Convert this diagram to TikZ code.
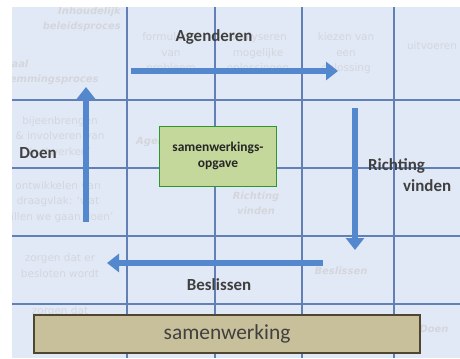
\documentclass[tikz,border=0pt]{standalone}
\usepackage{fontspec}
\setmainfont{Carlito}
\newfontfamily\faintfont{DejaVu Sans}
\usetikzlibrary{arrows.meta}
\definecolor{cellblue}{RGB}{226,233,246}
\definecolor{gridblue}{RGB}{98,128,182}
\definecolor{arrowblue}{RGB}{84,136,206}
\definecolor{labelgray}{RGB}{64,64,64}
\definecolor{faintgray}{RGB}{212,214,220}
\definecolor{opgavegreen}{RGB}{197,216,155}
\definecolor{opgaveedge}{RGB}{45,150,45}
\definecolor{khaki}{RGB}{200,192,154}
\definecolor{khakiedge}{RGB}{78,70,48}

\begin{document}
\begin{tikzpicture}[x=1bp, y=-1bp,
    gridline/.style={line width=1.2bp, gridblue},
    flow/.style={line width=6.5bp, arrowblue, -{Triangle[width=18bp,length=12bp]}},
    phase/.style={font=\fontsize{17}{21}\selectfont\bfseries, text=labelgray, inner sep=0pt},
    faint/.style={font=\faintfont\fontsize{10.5}{15.5}\selectfont, text=faintgray, align=center, inner sep=0pt},
    faintit/.style={font=\faintfont\fontsize{10}{15}\selectfont\bfseries\itshape, text=faintgray, inner sep=0pt}]
    \useasboundingbox (0,0) rectangle (460,358);
    % table
    \fill[cellblue] (12,7) rectangle (460,358);
    \begin{scope}
    \clip (12,7) rectangle (460,358);
    \node[faintit, align=right, anchor=east] (inhoud) at (121,19) {Inhoudelijk\\beleidsproces};
    \node[faintit, align=left, anchor=west] (sociaal) at (-12,72) {Sociaal\\afstemmingsproces};
    \node[faint] (formuleren) at (171,53.5) {formuleren\\van\\probleem};
    \node[faint] (analyseren) at (258,53.5) {analyseren\\mogelijke\\oplossingen};
    \node[faint] (kiezen) at (346,53.5) {kiezen van\\een\\oplossing};
    \node[faint] (uitvoeren) at (432,46) {uitvoeren};
    \node[faint] (bijeen) at (60,136) {bijeenbrengen\\\& involveren van\\‘netwerken’};
    \node[faint] (draagvlak) at (58,202) {ontwikkelen van\\draagvlak: ‘wat\\willen we gaan doen’};
    \node[faint] (zorgen) at (60,265.5) {zorgen dat er\\besloten wordt};
    \node[faint] (zorgenb) at (60,312) {zorgen dat};
    \node[faintit, anchor=west] (agfaint) at (136,142) {Agenderen};
    \node[faintit, align=center] (rifaint) at (256,203) {Richting\\vinden};
    \node[faintit] (befaint) at (341,271) {Beslissen};
    \node[faintit] (dofaint) at (434,329) {Doen};
    \end{scope}
    \foreach \x in {127,215,302,394} \draw[gridline] (\x,7) -- (\x,358);
    \foreach \y in {100,168,236,304} \draw[gridline] (12,\y) -- (460,\y);
    % cycle arrows
    \coordinate (agStart) at (131,71);
    \coordinate (agEnd) at (338,71);
    \coordinate (riStart) at (355,108);
    \coordinate (riEnd) at (355,250);
    \coordinate (beStart) at (323,263);
    \coordinate (beEnd) at (107,263);
    \coordinate (doStart) at (86,222);
    \coordinate (doEnd) at (86,87);
    \draw[flow] (agStart) -- (agEnd);
    \draw[flow] (riStart) -- (riEnd);
    \draw[flow] (beStart) -- (beEnd);
    \draw[flow] (doStart) -- (doEnd);
    % phases
    \node[phase] (agenderen) at (214,37) {Agenderen};
    \node[phase, align=left, anchor=west] (richting) at (368,175) {Richting\\\hspace{35bp}vinden};
    \node[phase] (beslissen) at (219,285) {Beslissen};
    \node[phase] (doen) at (38,153) {Doen};
    % boxes
    \node[draw=opgaveedge, fill=opgavegreen, line width=1bp, minimum width=117bp, minimum height=60bp,
      align=center, font=\fontsize{13.5}{16}\selectfont\bfseries, text={rgb,255:red,38;green,38;blue,38}]
      (opgave) at (218,156) {samenwerkings-\\opgave};
    \node[draw=khakiedge, fill=khaki, line width=1.2bp, minimum width=386bp, minimum height=38bp,
      font=\fontsize{21.5}{24}\selectfont, text=labelgray]
      (samenwerking) at (227,334) {samenwerking};
\end{tikzpicture}
\end{document}
